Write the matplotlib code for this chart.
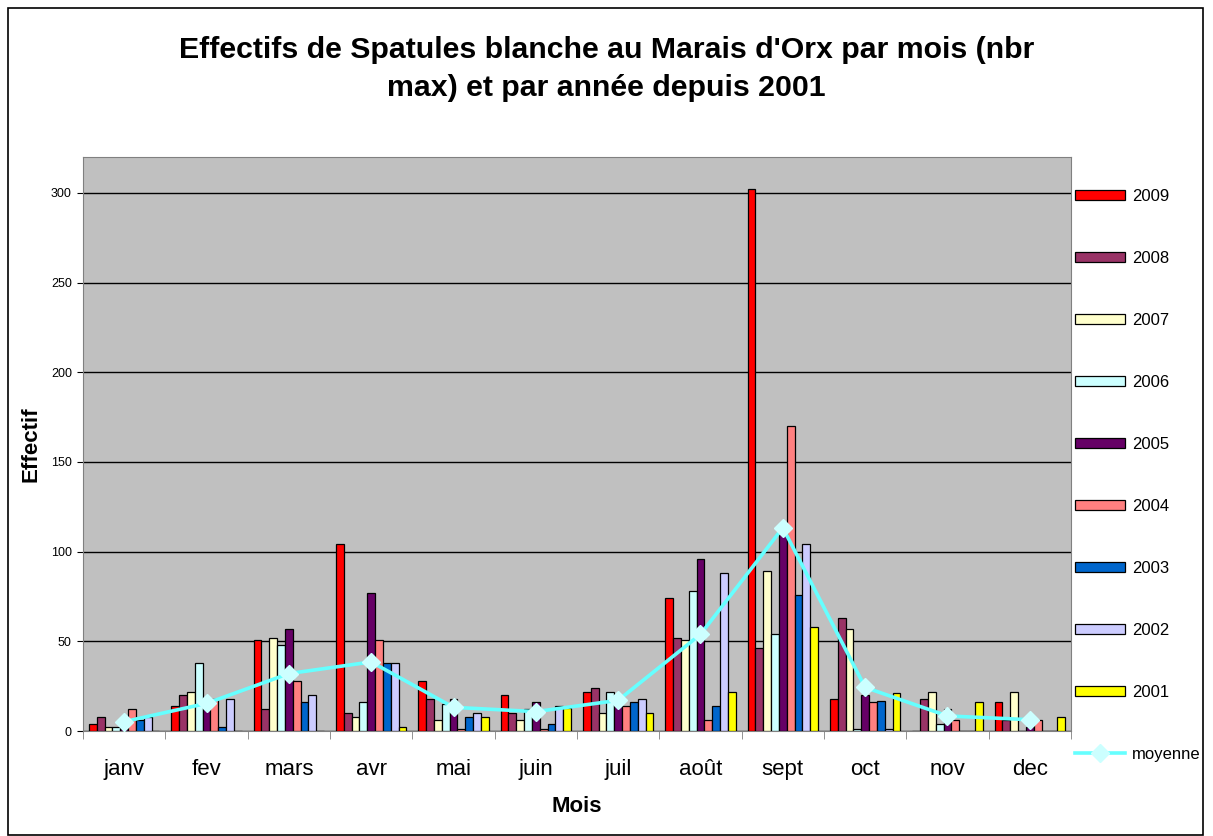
import numpy as np
import matplotlib
matplotlib.use('Agg')
import matplotlib.pyplot as plt
from matplotlib.patches import Patch, Rectangle
from matplotlib.lines import Line2D

plt.rcParams['font.family'] = ['Liberation Sans', 'DejaVu Sans']

months = ['janv', 'fev', 'mars', 'avr', 'mai', 'juin', 'juil', 'août', 'sept', 'oct', 'nov', 'dec']
years = ['2009', '2008', '2007', '2006', '2005', '2004', '2003', '2002', '2001']

y2009 = [4, 14, 51, 104, 28, 20, 22, 74, 302, 18, 0, 16]
y2008 = [8, 20, 12, 10, 18, 10, 24, 52, 46, 63, 18, 6]
y2007 = [2, 22, 52, 8, 6, 6, 10, 51, 89, 57, 22, 22]
y2006 = [2, 38, 48, 16, 15, 12, 22, 78, 54, 1, 4, 0]
y2005 = [1, 13, 57, 77, 18, 16, 16, 96, 112, 20, 12, 2]
y2004 = [12, 18, 28, 51, 1, 1, 14, 6, 170, 16, 6, 6]
y2003 = [6, 2, 16, 38, 8, 4, 16, 14, 76, 17, 0, 0]
y2002 = [8, 18, 20, 38, 10, 14, 18, 88, 104, 1, 0, 0]
y2001 = [0, 0, 0, 2, 8, 13, 10, 22, 58, 21, 16, 8]
moyenne = [5.2, 15.4, 32, 38.5, 13.2, 10.8, 17.1, 53.9, 113.3, 24.3, 8.4, 6.3]

series = [y2009, y2008, y2007, y2006, y2005, y2004, y2003, y2002, y2001]
colors = ['#FF0000', '#993366', '#FFFFCC', '#CCFFFF', '#660066',
          '#FF8080', '#0066CC', '#CCCCFF', '#FFFF00']

fig = plt.figure(figsize=(12.13, 8.36), dpi=100)
ax = fig.add_axes([83 / 1213, 105 / 836, 988 / 1213, 574 / 836])
ax.set_facecolor('#C0C0C0')

x = np.arange(len(months))
bw = 0.095
for i, (vals, col) in enumerate(zip(series, colors)):
    ax.bar(x + (i - 4) * bw, vals, width=bw, color=col, edgecolor='black',
           linewidth=0.9, zorder=3)

ax.plot(x, moyenne, color='#66FFFF', lw=2.6, marker='D', markersize=9,
        markerfacecolor='#CCFFFF', markeredgecolor='#CCFFFF', zorder=4)

ax.set_xlim(-0.5, 11.5)
ax.set_ylim(0, 320)
ax.set_yticks(range(0, 301, 50))
ax.yaxis.grid(True, color='black', lw=1)
ax.set_axisbelow(True)
ax.set_xticks(x)
ax.set_xticklabels(months, fontsize=16)
ax.set_xticks(np.arange(-0.5, 12, 1), minor=True)
ax.tick_params(axis='x', which='major', length=0, pad=20)
ax.tick_params(axis='x', which='minor', length=6, color='#808080')
ax.tick_params(axis='y', labelsize=9, length=4, pad=4)
for sp in ax.spines.values():
    sp.set_color('#808080')

ax.set_xlabel('Mois', fontsize=16, fontweight='bold')
ax.xaxis.set_label_coords(0.5, -0.113)
ax.set_ylabel('Effectif', fontsize=16, fontweight='bold')
ax.yaxis.set_label_coords(-0.042, 0.5)

fig.text(0.5, 1 - 69 / 836, "Effectifs de Spatules blanche au Marais d'Orx par mois (nbr\nmax) et par année depuis 2001",
         ha='center', va='center', fontsize=21.8, fontweight='bold', linespacing=1.45)

handles = [Patch(facecolor=c, edgecolor='black', linewidth=0.9) for c in colors]
handles.append(Line2D([], [], color='#66FFFF', lw=2.6, marker='D', markersize=9,
                      markerfacecolor='#CCFFFF', markeredgecolor='#CCFFFF'))
labels = years + ['moyenne']
fig.legend(handles, labels, loc='upper left', bbox_to_anchor=(1075 / 1213, 1 - 189 / 836),
           frameon=False, fontsize=12, handlelength=3.0, handleheight=0.6,
           handletextpad=0.4, labelspacing=2.82, borderpad=0, borderaxespad=0)

fig.patches.append(Rectangle((8 / 1213, 1 / 836), 1195 / 1213, 827 / 836,
                             transform=fig.transFigure, fill=False,
                             edgecolor='black', lw=1.2))

fig.savefig('out.png', dpi=100)
